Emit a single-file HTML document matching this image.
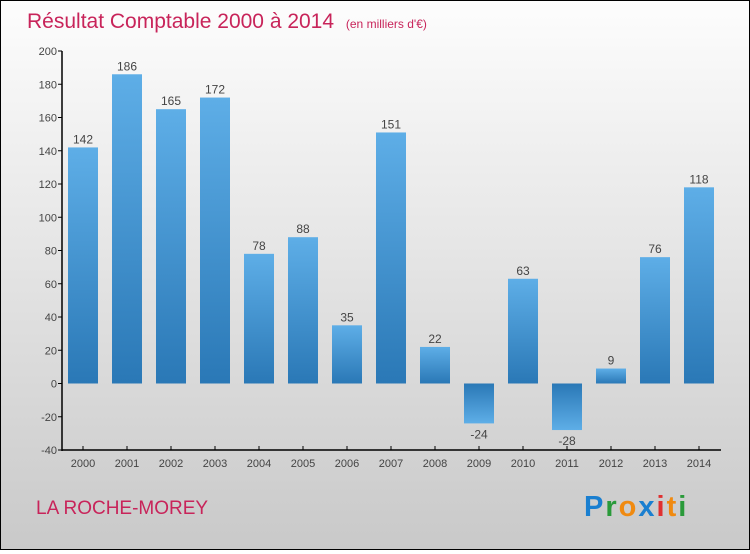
<!DOCTYPE html>
<html><head><meta charset="utf-8"><style>
html,body{margin:0;padding:0;}
body{width:750px;height:550px;overflow:hidden;font-family:"Liberation Sans",sans-serif;}
#wrap{position:relative;width:748px;height:548px;border:1px solid #000;background:linear-gradient(#fdfdfd,#c9c9c9);}
</style></head><body>
<div id="wrap">
<svg id="chart" width="748" height="548">
<defs>
<linearGradient id="gp" x1="0" y1="0" x2="0" y2="1"><stop offset="0" stop-color="#5eaee7"/><stop offset="1" stop-color="#2a78b6"/></linearGradient>
<linearGradient id="gn" x1="0" y1="0" x2="0" y2="1"><stop offset="0" stop-color="#2a78b6"/><stop offset="1" stop-color="#5eaee7"/></linearGradient>
</defs>
<text x="26" y="27" font-size="21" fill="#c8245a">Résultat Comptable 2000 à 2014 <tspan font-size="12" dx="6">(en milliers d'€)</tspan></text>
<text x="35" y="513" font-size="19" fill="#c8245a">LA ROCHE-MOREY</text>
<text x="583" y="515" font-size="29" font-weight="bold" letter-spacing="2"><tspan fill="#1a7fd0">P</tspan><tspan fill="#2a9a3a">r</tspan><tspan fill="#f08a10">o</tspan><tspan fill="#1a7fd0">x</tspan><tspan fill="#e03030">i</tspan><tspan fill="#f08a10">t</tspan><tspan fill="#2a9a3a">i</tspan></text>
<g id="plot"></g>
</svg>
</div>
<script>
const years=["2000","2001","2002","2003","2004","2005","2006","2007","2008","2009","2010","2011","2012","2013","2014"];
const values=[142,186,165,172,78,88,35,151,22,-24,63,-28,9,76,118];
const yTicks=[200,180,160,140,120,100,80,60,40,20,0,-20,-40];
const NS="http://www.w3.org/2000/svg";
const g=document.getElementById('plot');
const yMin=-40,yMax=200,yTop=50,yBot=449;
function y(v){return yBot-(v-yMin)/(yMax-yMin)*(yBot-yTop);}
function x(i){return 82+i*44;}
function mk(t,a){const e=document.createElementNS(NS,t);for(const k in a)e.setAttribute(k,a[k]);g.appendChild(e);return e;}
yTicks.forEach(v=>{
 const l=mk('line',{x1:57,x2:61,y1:y(v),y2:y(v),stroke:'#000'});
 
 
 const t=mk('text',{x:56,y:y(v)+4,'text-anchor':'end','font-size':11,fill:'#444'});
 t.textContent=v;
 
 
});
values.forEach((v,i)=>{
 const top=Math.min(y(v),y(0)),h=Math.abs(y(v)-y(0));
 const r=mk('rect',{x:x(i)-15,y:top,width:30,height:h,fill:v>=0?'url(#gp)':'url(#gn)'});
 
 
 const t=mk('text',{x:x(i),y:v>=0?y(v)-4:y(v)+15,'text-anchor':'middle','font-size':12,fill:'#444'});
 t.textContent=v;
 
 
 const tk=mk('line',{x1:x(i),x2:x(i),y1:yBot,y2:yBot-4,stroke:'#000'});
 
 
 const xl=mk('text',{x:x(i),y:466,'text-anchor':'middle','font-size':11,fill:'#444'});
 xl.textContent=years[i];
 
 
});
const ya=mk('line',{x1:61,x2:61,y1:yTop,y2:yBot+1,stroke:'#000','stroke-width':1.5});


const xa=mk('line',{x1:61,x2:720,y1:yBot,y2:yBot,stroke:'#000','stroke-width':1.5});


</script>
</body></html>
